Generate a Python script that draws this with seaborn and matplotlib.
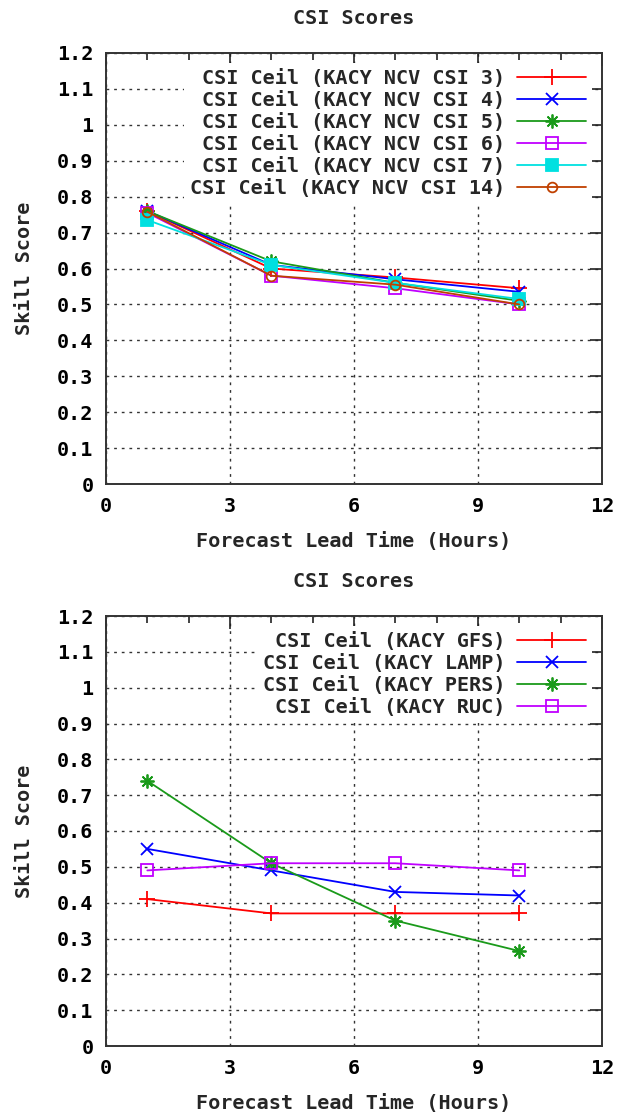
import numpy as np
import pandas as pd
import seaborn as sns
import matplotlib.pyplot as plt
from matplotlib.ticker import MultipleLocator, FixedLocator, FixedFormatter

# data
lead_hours = [1, 4, 7, 10]

top_labels = ['CSI Ceil (KACY NCV CSI 3)', 'CSI Ceil (KACY NCV CSI 4)',
              'CSI Ceil (KACY NCV CSI 5)', 'CSI Ceil (KACY NCV CSI 6)',
              'CSI Ceil (KACY NCV CSI 7)', 'CSI Ceil (KACY NCV CSI 14)']
csi3 = [0.76, 0.60, 0.575, 0.545]
csi4 = [0.76, 0.61, 0.57, 0.535]
csi5 = [0.76, 0.62, 0.56, 0.51]
csi6 = [0.755, 0.58, 0.545, 0.50]
csi7 = [0.735, 0.61, 0.56, 0.515]
csi14 = [0.758, 0.58, 0.555, 0.50]

bottom_labels = ['CSI Ceil (KACY GFS)', 'CSI Ceil (KACY LAMP)',
                 'CSI Ceil (KACY PERS)', 'CSI Ceil (KACY RUC)']
gfs = [0.41, 0.37, 0.37, 0.37]
lamp = [0.55, 0.49, 0.43, 0.42]
pers = [0.74, 0.51, 0.35, 0.265]
ruc = [0.49, 0.51, 0.51, 0.49]

y_ticks = [0, 0.1, 0.2, 0.3, 0.4, 0.5, 0.6, 0.7, 0.8, 0.9, 1.0, 1.1, 1.2]
y_ticklabels = ['0', '0.1', '0.2', '0.3', '0.4', '0.5', '0.6', '0.7', '0.8', '0.9', '1', '1.1', '1.2']
x_ticks = [0, 3, 6, 9, 12]

sns.set_style('white')
plt.rcParams['font.family'] = ['DejaVu Sans Mono']
plt.rcParams['font.weight'] = 'bold'
FS = 14.5

# gnuplot-like styles
colors = ['#ff0000', '#0000ff', '#1a9a1a', '#c000ff', '#00e0e0', '#c04000']
markers = ['+', 'x', (8, 2, 0), 's', 's', 'o']
msizes = [11, 9, 10, 8, 8, 7]
filled = [True, True, True, False, True, False]


def draw_panel(ax, series, labels):
    for i, (vals, lab) in enumerate(zip(series, labels)):
        kw = dict(markersize=msizes[i], markeredgewidth=1.3)
        if not filled[i]:
            kw['markerfacecolor'] = 'none'
        sns.lineplot(x=lead_hours, y=vals, ax=ax, color=colors[i], marker=markers[i],
                     linewidth=1.3, label=lab, markeredgecolor=colors[i], **kw)
    ax.set_xlim(0, 12)
    ax.set_ylim(0, 1.2)
    ax.xaxis.set_major_locator(FixedLocator(x_ticks))
    ax.xaxis.set_minor_locator(MultipleLocator(1))
    ax.yaxis.set_major_locator(FixedLocator(y_ticks))
    ax.yaxis.set_major_formatter(FixedFormatter(y_ticklabels))
    ax.tick_params(which='both', direction='in', top=True, right=True, colors='#222222',
                   labelsize=FS, labelcolor='black', pad=9, width=1.2)
    ax.tick_params(which='major', length=9)
    ax.tick_params(which='minor', length=5)
    ax.grid(True, which='major', color='#333333', linestyle=(0, (2, 3.5)), linewidth=1)
    for s in ax.spines.values():
        s.set_color('#333333')
        s.set_linewidth(1.4)
    ax.set_title('CSI Scores', fontsize=FS, fontweight='bold', pad=21)
    ax.set_xlabel('Forecast Lead Time (Hours)', fontsize=FS, fontweight='bold', labelpad=12)
    ax.set_ylabel('Skill Score', fontsize=FS, fontweight='bold', labelpad=17)
    leg = ax.legend(loc='upper right', markerfirst=False, frameon=True, fontsize=FS,
                    handlelength=3.4, handletextpad=0.6, labelspacing=0.15,
                    borderpad=0.3, borderaxespad=0.5, numpoints=1)
    frame = leg.get_frame()
    frame.set_facecolor('white')
    frame.set_edgecolor('none')
    frame.set_alpha(1)
    frame.set_boxstyle('square', pad=0)


fig = plt.figure(figsize=(6.21, 11.15), dpi=100)
ax1 = fig.add_axes([106 / 621, 1 - 484 / 1115, 496 / 621, 431 / 1115])
ax2 = fig.add_axes([106 / 621, 1 - 1046 / 1115, 496 / 621, 430 / 1115])

draw_panel(ax1, [csi3, csi4, csi5, csi6, csi7, csi14], top_labels)
draw_panel(ax2, [gfs, lamp, pers, ruc], bottom_labels)

fig.savefig('out.png', dpi=100, facecolor='white')
